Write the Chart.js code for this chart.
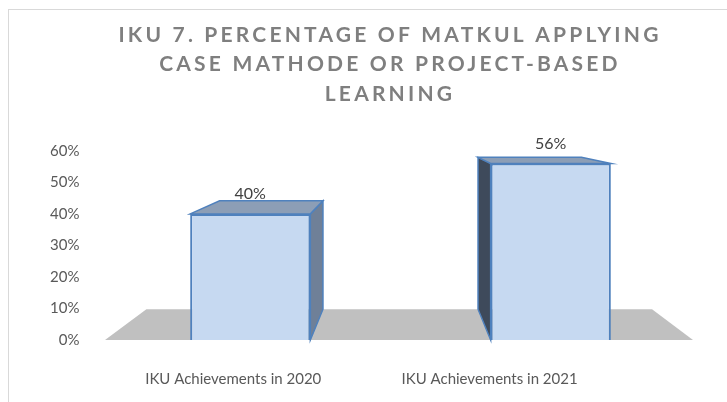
<!DOCTYPE html>
<html>
<head>
<meta charset="utf-8">
<script src="https://cdn.jsdelivr.net/npm/chart.js@4.4.0/dist/chart.umd.min.js"></script>
<style>
    html, body { margin: 0; padding: 0; background: #fff; overflow: hidden; }
    #frame { position: absolute; left: 8px; top: 9px; width: 800px; height: 500px;
             border-left: 1px solid #d9d9d9; border-top: 1px solid #d9d9d9; }
    #wrap { position: absolute; left: 0; top: 0; width: 727px; height: 402px; }
</style>
</head>
<body>
<div id="frame"></div>
<div id="wrap"><canvas id="ikuChart"></canvas></div>
<script>
// Chart data
const categories = ['IKU Achievements in 2020', 'IKU Achievements in 2021'];
const percentages = [0.40, 0.56];
const yTicks = [0, 0.1, 0.2, 0.3, 0.4, 0.5, 0.6];
const titleLines = ['IKU 7. PERCENTAGE OF MATKUL APPLYING', 'CASE MATHODE OR PROJECT-BASED', 'LEARNING'];

// 3D look: back face is the front face shrunk towards a vanishing point
const SHRINK = 0.86;
const VANISH_Y = 120;

function project(p, vx, vy) {
    return [vx + SHRINK * (p[0] - vx), vy + SHRINK * (p[1] - vy)];
}

function fillPoly(ctx, pts, fill, stroke) {
    ctx.beginPath();
    ctx.moveTo(pts[0][0], pts[0][1]);
    for (let i = 1; i < pts.length; i++) ctx.lineTo(pts[i][0], pts[i][1]);
    ctx.closePath();
    ctx.fillStyle = fill;
    ctx.fill();
    if (stroke) {
        ctx.strokeStyle = stroke;
        ctx.lineWidth = 1.5;
        ctx.stroke();
    }
}

const bars3d = {
    id: 'bars3d',
    beforeDraw(chart) {
        // spaced-out title letters
        chart.ctx.letterSpacing = '3.2px';
    },
    beforeDatasetsDraw(chart) {
        const { ctx, chartArea: a, scales: { y } } = chart;
        ctx.letterSpacing = '0px';
        const vx = (a.left + a.right) / 2;
        const base = y.getPixelForValue(0);

        ctx.save();
        // floor
        const fl = [a.left + 5, base], fr = [a.right - 8, base];
        fillPoly(ctx, [fl, fr, project(fr, vx, VANISH_Y), project(fl, vx, VANISH_Y)], '#c0c0c0');

        // top and side faces of each bar
        chart.getDatasetMeta(0).data.forEach(bar => {
            const l = bar.x - bar.width / 2, r = bar.x + bar.width / 2;
            const t = bar.y, b = bar.base;
            const ftl = [l, t], ftr = [r, t], fbl = [l, b], fbr = [r, b];
            if (r < vx) {
                fillPoly(ctx, [ftr, project(ftr, vx, VANISH_Y), project(fbr, vx, VANISH_Y), fbr], '#6f8098', '#4f81bd');
            } else if (l > vx) {
                fillPoly(ctx, [ftl, project(ftl, vx, VANISH_Y), project(fbl, vx, VANISH_Y), fbl], '#3e4a5b', '#4f81bd');
            }
            fillPoly(ctx, [ftl, ftr, project(ftr, vx, VANISH_Y), project(ftl, vx, VANISH_Y)], '#8c9eb6', '#4f81bd');
        });
        ctx.restore();
    },
    afterDatasetsDraw(chart) {
        const { ctx } = chart;
        ctx.save();
        ctx.font = '16px Lato';
        ctx.fillStyle = '#404040';
        ctx.textAlign = 'center';
        ctx.textBaseline = 'middle';
        chart.getDatasetMeta(0).data.forEach((bar, i) => {
            ctx.fillText(Math.round(percentages[i] * 100) + '%', bar.x, bar.y - 20);
        });
        ctx.restore();
    }
};

new Chart(document.getElementById('ikuChart'), {
    type: 'bar',
    data: {
        labels: categories,
        datasets: [{
            data: percentages,
            backgroundColor: '#c6d9f1',
            borderColor: '#4f81bd',
            borderWidth: 2,
            barPercentage: 0.8,
            categoryPercentage: 0.5
        }]
    },
    options: {
        responsive: true,
        maintainAspectRatio: false,
        animation: false,
        // left padding pushes the title centre right, like the original
        layout: { padding: { left: 79, right: 26, top: 0, bottom: 0 } },
        plugins: {
            legend: { display: false },
            tooltip: { enabled: false },
            title: {
                display: true,
                text: titleLines,
                color: '#7f7f7f',
                font: { family: 'Lato', size: 21, weight: 'bold', lineHeight: 1.41 },
                padding: { top: 20, bottom: 42 }
            }
        },
        scales: {
            x: {
                grid: { display: false },
                border: { display: false },
                afterFit: s => { s.height = 62; },
                ticks: {
                    z: 1,
                    color: '#595959',
                    font: { family: 'Lato', size: 15 },
                    padding: 22,
                    maxRotation: 0,
                    labelOffset: -17,
                    callback: (v, i) => i === 1 ? categories[i] + '\u00a0'.repeat(23) : categories[i]
                }
            },
            y: {
                min: 0,
                max: 0.6,
                grid: { display: false },
                border: { display: false },
                afterFit: s => { s.width = 21; },
                afterBuildTicks: s => { s.ticks = yTicks.map(v => ({ value: v })); },
                ticks: {
                    z: 1,
                    // mirrored so the labels are not clipped to the narrow axis box
                    mirror: true,
                    crossAlign: 'far',
                    color: '#595959',
                    font: { family: 'Lato', size: 15 },
                    padding: -50,
                    callback: v => Math.round(v * 100) + '%'
                }
            }
        }
    },
    plugins: [bars3d]
});
</script>
</body>
</html>
